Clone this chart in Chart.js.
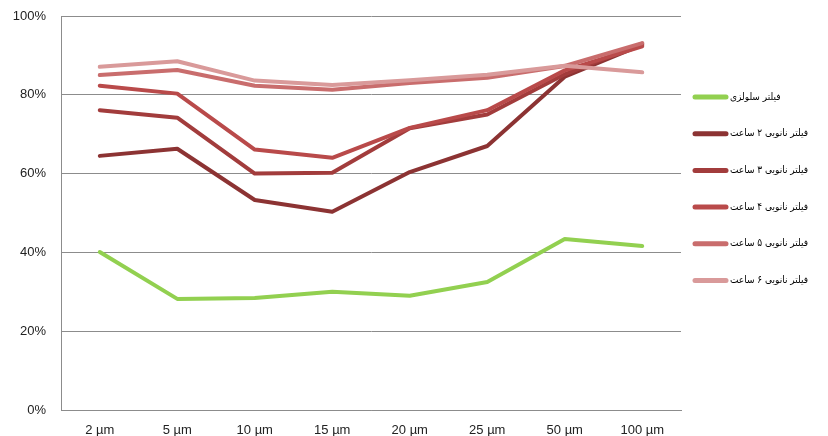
<!DOCTYPE html>
<html>
<head>
<meta charset="utf-8">
<script src="https://cdn.jsdelivr.net/npm/chart.js@4/dist/chart.umd.min.js"></script>
<style>
    html, body { margin: 0; padding: 0; background: #fff; }
    #wrap { width: 828px; height: 436px; position: relative; }
</style>
</head>
<body>
<div id="wrap"><canvas id="chart"></canvas></div>
<script>
const categories = ['2 µm', '5 µm', '10 µm', '15 µm', '20 µm', '25 µm', '50 µm', '100 µm'];

const seriesNames = [
    'فیلتر سلولزی',
    'فیلتر نانویی ۲ ساعت',
    'فیلتر نانویی ۳ ساعت',
    'فیلتر نانویی ۴ ساعت',
    'فیلتر نانویی ۵ ساعت',
    'فیلتر نانویی ۶ ساعت'
];

// values in percent
const cellulose = [40.1, 28.2, 28.4, 30.0, 29.0, 32.5, 43.4, 41.6];
const nano2h = [64.5, 66.3, 53.3, 50.3, 60.4, 67.0, 84.6, 92.7];
const nano3h = [76.1, 74.2, 60.0, 60.2, 71.5, 75.0, 85.2, 93.0];
const nano4h = [82.3, 80.3, 66.1, 64.0, 71.6, 76.1, 86.2, 92.3];
const nano5h = [85.0, 86.3, 82.3, 81.3, 83.0, 84.3, 87.3, 93.1];
const nano6h = [87.1, 88.5, 83.6, 82.5, 83.7, 85.1, 87.4, 85.7];

const yTicks = [0, 20, 40, 60, 80, 100];

const colors = ['#92d050', '#8c3333', '#a23c3c', '#b94a4a', '#c96d6d', '#d99a9a'];

const FONT = "'Liberation Sans', 'DejaVu Sans', sans-serif";
const LEGEND_FONT = "'DejaVu Sans Condensed', 'DejaVu Sans', sans-serif";

// Legend drawn to the right of the plot, sample line then the label
const sideLegendPlugin = {
    id: 'sideLegend',
    afterDraw(chart) {
        const { ctx, chartArea } = chart;
        const x0 = chartArea.right + 12;
        const lineLen = 35;
        const top = 97;
        const step = 36.7;

        chart.data.datasets.forEach((ds, i) => {
            const y = top + i * step;
            ctx.save();
            ctx.beginPath();
            ctx.moveTo(x0 + 2, y);
            ctx.lineTo(x0 + lineLen - 2, y);
            ctx.lineWidth = 5;
            ctx.lineCap = 'round';
            ctx.strokeStyle = ds.borderColor;
            ctx.stroke();

            ctx.fillStyle = '#000';
            ctx.font = '10px ' + LEGEND_FONT;
            ctx.direction = 'rtl';
            ctx.textAlign = 'left';
            ctx.textBaseline = 'middle';
            ctx.fillText(ds.label, x0 + lineLen + 2, y);
            ctx.restore();
        });
    }
};

const seriesData = [cellulose, nano2h, nano3h, nano4h, nano5h, nano6h];

new Chart(document.getElementById('chart').getContext('2d'), {
    type: 'line',
    data: {
        labels: categories,
        datasets: seriesData.map((values, i) => ({
            label: seriesNames[i],
            data: values,
            borderColor: colors[i],
            backgroundColor: colors[i],
            borderWidth: 4,
            borderCapStyle: 'round',
            borderJoinStyle: 'round',
            pointRadius: 0,
            tension: 0,
            fill: false,
            order: seriesData.length - i
        }))
    },
    options: {
        responsive: true,
        maintainAspectRatio: false,
        animation: false,
        layout: {
            padding: { top: 16, right: 147, left: 0, bottom: 0 }
        },
        plugins: {
            legend: { display: false },
            tooltip: { enabled: false }
        },
        scales: {
            x: {
                offset: true,
                grid: { display: false, drawTicks: false },
                border: { display: true, color: '#8c8c8c', width: 1 },
                ticks: {
                    color: '#222',
                    font: { family: FONT, size: 13 },
                    padding: 13,
                    maxRotation: 0,
                    autoSkip: false
                },
                afterFit(scale) { scale.height = 26; }
            },
            y: {
                min: 0,
                max: 100,
                afterBuildTicks(scale) {
                    scale.ticks = yTicks.map(v => ({ value: v }));
                },
                grid: { color: '#8c8c8c', lineWidth: 1, drawTicks: false },
                border: { display: true, color: '#8c8c8c', width: 1 },
                ticks: {
                    color: '#222',
                    font: { family: FONT, size: 13 },
                    padding: 15,
                    callback: (value) => value + '%'
                },
                afterFit(scale) {
                    scale.width = 61;
                    scale.paddingTop = 0;
                    scale.paddingBottom = 0;
                }
            }
        }
    },
    plugins: [sideLegendPlugin]
});
</script>
</body>
</html>
